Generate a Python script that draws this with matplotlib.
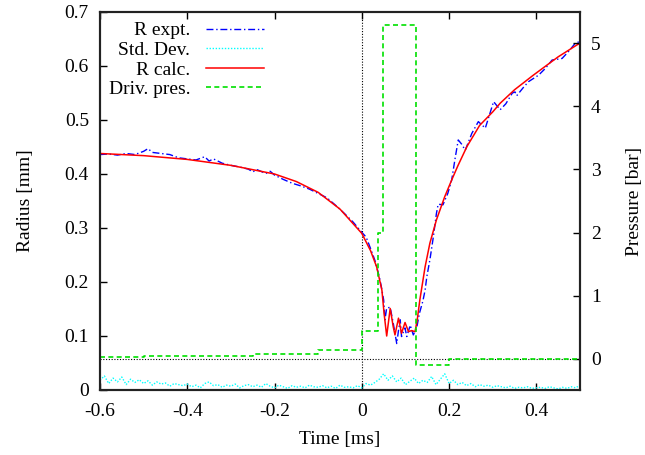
import numpy as np
import matplotlib.pyplot as plt

plt.rcParams['font.family'] = ['Liberation Serif', 'DejaVu Serif']
plt.rcParams['font.size'] = 14

# measured radius (blue), ms / mm
expt_t = [-0.60, -0.58, -0.56, -0.54, -0.52, -0.50, -0.49, -0.48, -0.46, -0.44,
          -0.42, -0.40, -0.38, -0.36, -0.35, -0.34, -0.32, -0.30, -0.28, -0.26,
          -0.25, -0.24, -0.22, -0.21, -0.20, -0.18, -0.16, -0.14, -0.12, -0.10,
          -0.09, -0.08, -0.07, -0.06, -0.04, -0.02, 0.00, 0.01, 0.02, 0.03,
          0.04, 0.045, 0.05, 0.053, 0.057, 0.065, 0.072, 0.080, 0.084, 0.088,
          0.091, 0.099, 0.103, 0.111, 0.118, 0.126, 0.132, 0.140, 0.145, 0.149,
          0.156, 0.164, 0.171, 0.175, 0.186, 0.197, 0.206, 0.214, 0.221, 0.229,
          0.237, 0.252, 0.267, 0.283, 0.302, 0.317, 0.330, 0.345, 0.351, 0.355,
          0.370, 0.382, 0.405, 0.420, 0.436, 0.459, 0.475, 0.490, 0.500]
expt_r = [0.436, 0.437, 0.435, 0.438, 0.436, 0.442, 0.447, 0.440, 0.438, 0.436,
          0.430, 0.428, 0.426, 0.432, 0.424, 0.428, 0.420, 0.416, 0.413, 0.409,
          0.404, 0.408, 0.401, 0.405, 0.398, 0.390, 0.383, 0.378, 0.372, 0.364,
          0.360, 0.356, 0.349, 0.342, 0.327, 0.311, 0.292, 0.283, 0.262, 0.240,
          0.210, 0.190, 0.167, 0.130, 0.152, 0.153, 0.124, 0.086, 0.110, 0.130,
          0.099, 0.115, 0.099, 0.120, 0.102, 0.116, 0.142, 0.165, 0.185, 0.210,
          0.241, 0.284, 0.327, 0.344, 0.343, 0.364, 0.389, 0.430, 0.463, 0.455,
          0.444, 0.475, 0.497, 0.485, 0.534, 0.519, 0.530, 0.550, 0.552, 0.545,
          0.560, 0.571, 0.583, 0.595, 0.611, 0.614, 0.628, 0.643, 0.645]

# calculated radius (red)
calc_t = [-0.60, -0.50, -0.40, -0.30, -0.20, -0.15, -0.10, -0.05, 0.00, 0.02,
          0.034, 0.046, 0.051, 0.057, 0.065, 0.072, 0.076, 0.084, 0.091, 0.099,
          0.107, 0.114, 0.122, 0.127, 0.133, 0.145, 0.156, 0.171, 0.190, 0.206,
          0.220, 0.241, 0.270, 0.300, 0.317, 0.350, 0.393, 0.450, 0.493, 0.500]
calc_r = [0.438, 0.434, 0.427, 0.416, 0.400, 0.386, 0.366, 0.335, 0.290, 0.258,
          0.228, 0.185, 0.142, 0.100, 0.151, 0.117, 0.102, 0.133, 0.105, 0.125,
          0.108, 0.110, 0.108, 0.130, 0.167, 0.228, 0.272, 0.315, 0.358, 0.389,
          0.415, 0.451, 0.490, 0.515, 0.531, 0.556, 0.583, 0.617, 0.639, 0.642]

# standard deviation, every 0.01 ms from -0.6 to 0.5
std_t = np.round(np.arange(-0.60, 0.5001, 0.01), 3)
std_r = [0.018, 0.026, 0.012, 0.022, 0.015, 0.024, 0.010, 0.020, 0.014, 0.019,
         0.012, 0.017, 0.009, 0.015, 0.011, 0.013, 0.007, 0.012, 0.010, 0.008,
         0.011, 0.006, 0.009, 0.004, 0.012, 0.015, 0.008, 0.010, 0.005, 0.009,
         0.007, 0.011, 0.004, 0.008, 0.010, 0.006, 0.009, 0.005, 0.012, 0.007,
         0.004, 0.009, 0.006, 0.003, 0.008, 0.005, 0.007, 0.004, 0.009, 0.006,
         0.005, 0.008, 0.004, 0.007, 0.003, 0.009, 0.005, 0.006, 0.004, 0.008,
         0.004, 0.012, 0.009, 0.014, 0.020, 0.030, 0.018, 0.026, 0.015, 0.022,
         0.010, 0.016, 0.022, 0.012, 0.018, 0.014, 0.025, 0.010, 0.020, 0.030,
         0.012, 0.018, 0.010, 0.014, 0.008, 0.012, 0.006, 0.010, 0.007, 0.009,
         0.005, 0.008, 0.006, 0.004, 0.007, 0.003, 0.005, 0.004, 0.006, 0.003,
         0.004, 0.005, 0.003, 0.006, 0.004, 0.002, 0.005, 0.003, 0.006, 0.004,
         0.009]

# driving pressure steps (bar)
pres_t = [-0.60, -0.50, -0.25, -0.10, 0.00, 0.038, 0.049, 0.1245, 0.20, 0.50]
pres_v = [0.03, 0.04, 0.065, 0.13, 0.44, 2.0, 5.3, -0.1, 0.0, 0.0]

fig = plt.figure(figsize=(6.45, 4.55), dpi=100)
ax = fig.add_axes([100 / 645, 65 / 455, 480 / 645, 378 / 455])
ax2 = ax.twinx()

ax.axvline(0, color='black', linestyle=(0, (1, 1.5)), linewidth=0.8)
ax2.axhline(0, color='black', linestyle=(0, (1, 1.5)), linewidth=0.8)

l1, = ax.plot(expt_t, expt_r, color='#0000ff', linestyle=(0, (5, 2, 1, 2)),
              linewidth=1.0, label='R expt.')
l2, = ax.plot(std_t, std_r, color='#00ffff', linestyle=(0, (1, 1.2)),
              linewidth=1.0, label='Std. Dev.')
l3, = ax.plot(calc_t, calc_r, color='#ff0000', linewidth=1.1, label='R calc.')
l4, = ax2.step(pres_t, pres_v, where='post', color='#00e000',
               linestyle=(0, (3, 2)), linewidth=1.2, label='Driv. pres.')

ax.set_xlim(-0.6, 0.5)
ax.set_ylim(0, 0.7)
ax2.set_ylim(-0.5, 5.5)
ax.set_xticks([-0.6, -0.4, -0.2, 0, 0.2, 0.4])
ax.set_xticklabels(['-0.6', '-0.4', '-0.2', '0', '0.2', '0.4'])
ax.set_yticks([0, 0.1, 0.2, 0.3, 0.4, 0.5, 0.6, 0.7])
ax.set_yticklabels(['0', '0.1', '0.2', '0.3', '0.4', '0.5', '0.6', '0.7'])
ax2.set_yticks([0, 1, 2, 3, 4, 5])

ax.tick_params(axis='x', direction='in', length=5, width=1, top=True, pad=9)
ax.tick_params(axis='y', direction='in', length=5, width=1, right=False, pad=8)
ax2.tick_params(direction='in', length=5, width=1, pad=8)
for a in (ax, ax2):
    for s in a.spines.values():
        s.set_linewidth(1.5)
        s.set_color('#222222')

ax.set_xlabel('Time [ms]', labelpad=8)
ax.set_ylabel('Radius [mm]', labelpad=22)
ax2.set_ylabel('Pressure [bar]', labelpad=18)

ax.legend([l1, l2, l3, l4], [h.get_label() for h in (l1, l2, l3, l4)],
          loc='upper right', bbox_to_anchor=(0.3415, 0.974), frameon=False,
          markerfirst=False, handlelength=3.0, handletextpad=0.8,
          labelspacing=0.1, borderpad=0, borderaxespad=0)

fig.savefig('out.png', dpi=100)
